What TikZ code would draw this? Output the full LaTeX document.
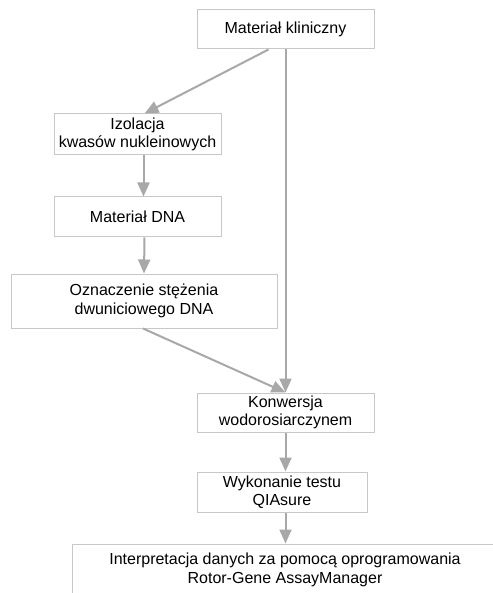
\documentclass[tikz,border=0pt]{standalone}
\usepackage{fontspec}
\setmainfont{Liberation Sans}
\usetikzlibrary{arrows.meta}
\definecolor{boxgray}{HTML}{C8C8C8}
\definecolor{arrgray}{HTML}{A8A8A8}
\begin{document}
\begin{tikzpicture}[x=1pt,y=1pt]
	\tikzstyle{every node}+=[inner sep=0pt]
	\tikzstyle{stepbox}=[draw=boxgray, line width=1pt, fill=white, align=center, font=\fontsize{16}{18.5}\selectfont]
	\tikzstyle{arr}=[draw=arrgray, line width=2pt, -{Triangle[width=12pt,length=14pt]}, arrgray]
	\useasboundingbox (0,0) rectangle (492,-593);
	\node [stepbox, minimum width=177, minimum height=39] (mat) at (285.5,-29.5) {Materiał kliniczny};
	\node [stepbox, minimum width=167, minimum height=41] (izo) at (137.5,-134.5) {Izolacja\\kwasów nukleinowych};
	\node [stepbox, minimum width=167, minimum height=40] (dna) at (137.5,-217) {Materiał DNA};
	\node [stepbox, minimum width=266, minimum height=54] (ozn) at (144,-301) {Oznaczenie stężenia\\dwuniciowego DNA};
	\node [stepbox, minimum width=177, minimum height=39] (kon) at (285.5,-412.5) {Konwersja\\wodorosiarczynem};
	\node [stepbox, minimum width=170, minimum height=40] (wyk) at (282,-492) {Wykonanie testu\\QIAsure};
	\node [stepbox, minimum width=426, minimum height=52] (int) at (285,-570) {Interpretacja danych za pomocą oprogramowania\\Rotor-Gene AssayManager};
	\draw [arr] ([xshift=-17pt]mat.south) -- ([xshift=7pt]izo.north);
	\draw [arr] (mat.south) -- (kon.north);
	\draw [arr] ([xshift=6pt]izo.south) -- ([xshift=6pt]dna.north);
	\draw [arr] ([xshift=7pt]dna.south) -- (ozn.north);
	\draw [arr] ([xshift=-1pt]ozn.south) -- (kon.north);
	\draw [arr] (kon.south) -- ([xshift=3.5pt]wyk.north);
	\draw [arr] ([xshift=3.5pt]wyk.south) -- ([xshift=0.5pt]int.north);
\end{tikzpicture}
\end{document}
